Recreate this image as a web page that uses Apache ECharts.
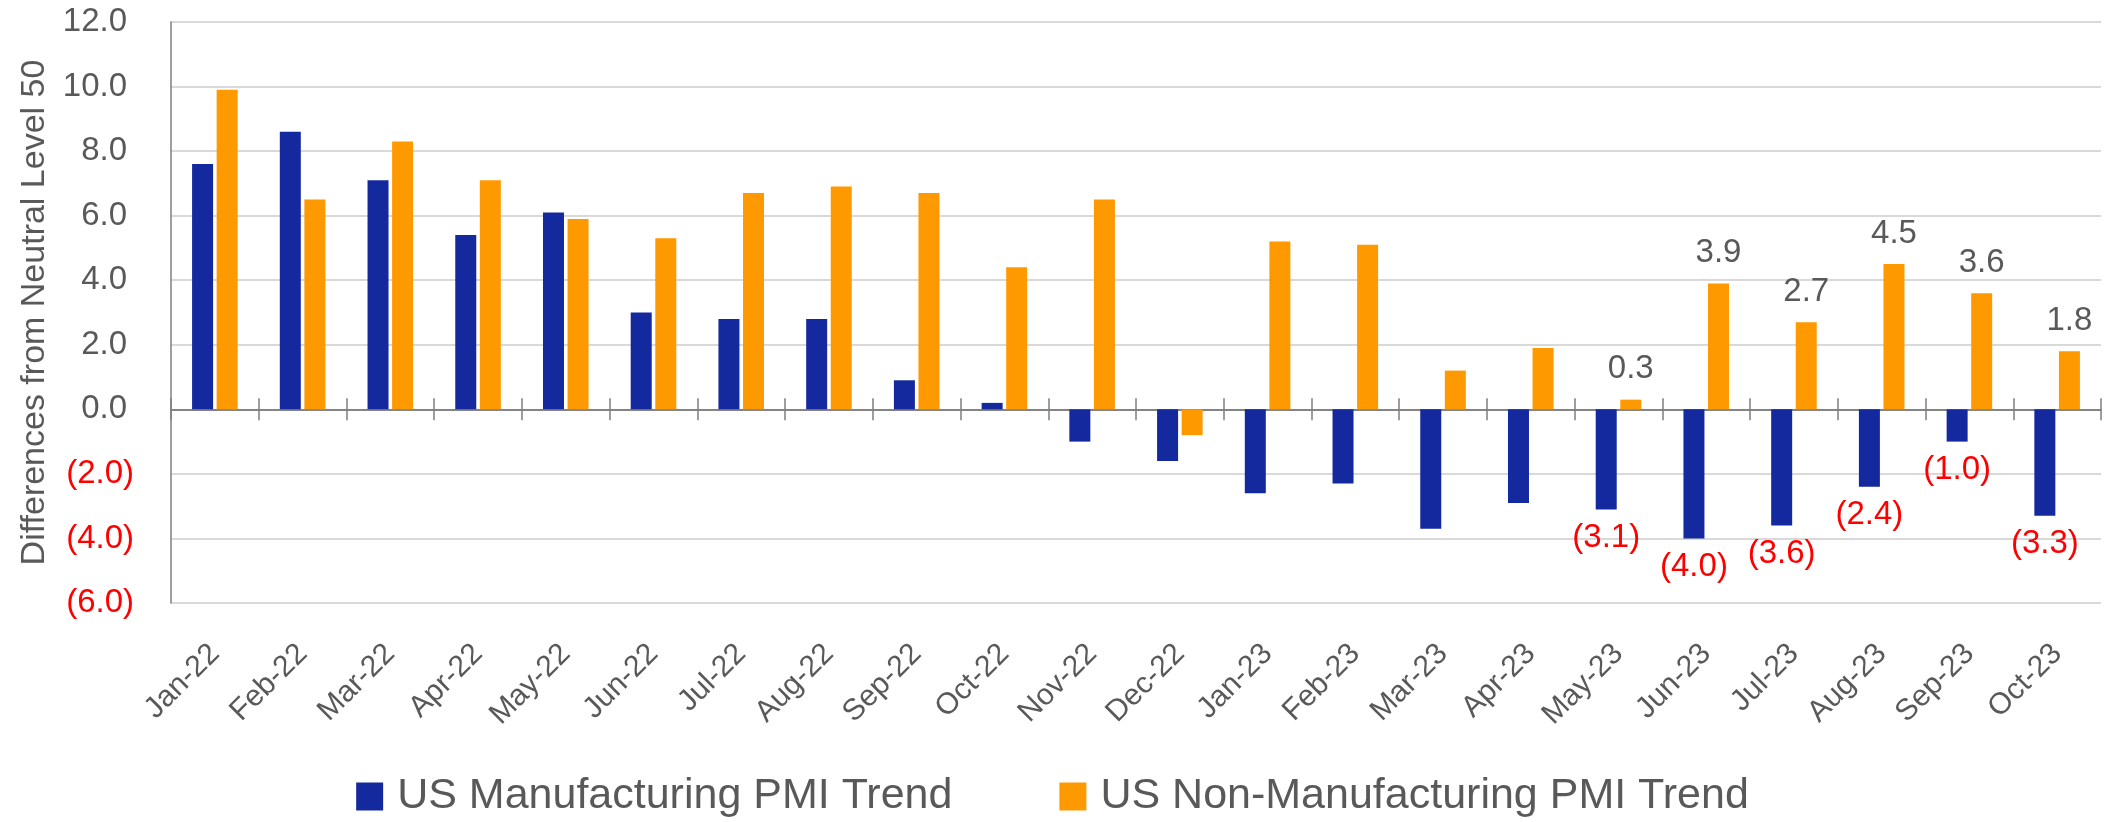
<!DOCTYPE html>
<html>
<head>
<meta charset="utf-8">
<script src="https://cdn.jsdelivr.net/npm/echarts@6/dist/echarts.min.js"></script>
<style>
  html, body { margin: 0; padding: 0; background: #fff; }
  #chart { width: 2105px; height: 822px; }
</style>
</head>
<body>
<div id="chart"></div>
<script>
// categories
const months = [
  'Jan-22', 'Feb-22', 'Mar-22', 'Apr-22', 'May-22', 'Jun-22', 'Jul-22', 'Aug-22',
  'Sep-22', 'Oct-22', 'Nov-22', 'Dec-22', 'Jan-23', 'Feb-23', 'Mar-23', 'Apr-23',
  'May-23', 'Jun-23', 'Jul-23', 'Aug-23', 'Sep-23', 'Oct-23'
]
// differences from neutral level 50
const manufacturing = [
  7.6, 8.6, 7.1, 5.4, 6.1, 3.0, 2.8, 2.8, 0.9, 0.2, -1.0, -1.6,
  -2.6, -2.3, -3.7, -2.9, -3.1, -4.0, -3.6, -2.4, -1.0, -3.3
]
const nonManufacturing = [
  9.9, 6.5, 8.3, 7.1, 5.9, 5.3, 6.7, 6.9, 6.7, 4.4, 6.5, -0.8,
  5.2, 5.1, 1.2, 1.9, 0.3, 3.9, 2.7, 4.5, 3.6, 1.8
]
// months that carry a value label
const labelledMonths = ['May-23', 'Jun-23', 'Jul-23', 'Aug-23', 'Sep-23', 'Oct-23']
const seriesNames = ['US Manufacturing PMI Trend', 'US Non-Manufacturing PMI Trend']

const colors = ['#15299E', '#FF9900']
const grey = '#595959'
const red = '#FF0000'
const axisGrey = '#7F7F7F'
const font = 'Liberation Sans'

// excel style number: 1.5 / (1.5)
const fmt = function(v) {
  return v < 0 ? '(' + Math.abs(v).toFixed(1) + ')' : v.toFixed(1)
}

const toItems = function(values) {
  return values.map(function(v, i) {
    return { value: v, label: { show: labelledMonths.indexOf(months[i]) !== -1 } }
  })
}

const myChart = echarts.init(document.getElementById('chart'))

myChart.setOption({
  animation: false,
  color: colors,
  textStyle: { fontFamily: font },
  grid: {
    left: 171,
    right: 4,
    top: 22,
    bottom: 219,
    containLabel: false,
    outerBoundsMode: 'none',
  },
  legend: {
    data: seriesNames,
    left: 'center',
    top: 770,
    icon: 'rect',
    itemWidth: 27,
    itemHeight: 28,
    itemGap: 107,
    textStyle: { fontSize: 43, color: grey, fontFamily: font, padding: [0, 0, 0, 9] },
  },
  xAxis: [
    {
      type: 'category',
      data: months,
      position: 'bottom',
      axisLine: { onZero: true, onZeroAxisIndex: 0, lineStyle: { color: axisGrey, width: 1.5 } },
      axisTick: { show: true, length: 11, lineStyle: { color: axisGrey, width: 1.5 } },
      // labels sit below the plot bottom, like excel "low" position
      axisLabel: {
        rotate: 45,
        margin: 46,
        fontSize: 30,
        color: grey,
        fontFamily: font,
        interval: 0,
      },
      splitLine: { show: false },
    },
    {
      // second axis only to draw the upper half of the crossing ticks
      type: 'category',
      data: months,
      position: 'top',
      axisLine: { onZero: true, onZeroAxisIndex: 0, lineStyle: { color: axisGrey, width: 1.5 } },
      axisTick: { show: true, length: 11, lineStyle: { color: axisGrey, width: 1.5 } },
      axisLabel: { show: false },
      splitLine: { show: false },
    },
  ],
  yAxis: {
    type: 'value',
    min: -6,
    max: 12,
    interval: 2,
    name: 'Differences from Neutral Level 50',
    nameLocation: 'middle',
    nameRotate: 90,
    nameGap: 119,
    nameTextStyle: { fontSize: 34, color: grey, fontFamily: font },
    axisLine: { show: true, lineStyle: { color: axisGrey, width: 1.5 } },
    axisTick: { show: false },
    axisLabel: {
      fontSize: 33,
      margin: 37,
      fontFamily: font,
      color: function(v) {
        return Number(v) < 0 ? red : grey
      },
      formatter: function(v) {
        return v < 0 ? fmt(v) : '{pos|' + fmt(v) + '}'
      },
      rich: {
        pos: { fontSize: 33, fontFamily: font, padding: [0, 7, 0, 0] },
      },
    },
    splitLine: { show: true, lineStyle: { color: '#D9D9D9', width: 2 } },
  },
  series: [
    {
      name: seriesNames[0],
      type: 'bar',
      xAxisIndex: 0,
      barWidth: 21,
      barGap: '17%',
      data: toItems(manufacturing),
      label: {
        position: 'bottom',
        distance: 12,
        fontSize: 33,
        color: red,
        fontFamily: font,
        formatter: function(p) { return fmt(p.value) },
      },
    },
    {
      name: seriesNames[1],
      type: 'bar',
      xAxisIndex: 0,
      barWidth: 21,
      barGap: '17%',
      data: toItems(nonManufacturing),
      label: {
        position: 'top',
        distance: 14,
        fontSize: 33,
        color: grey,
        fontFamily: font,
        formatter: function(p) { return fmt(p.value) },
      },
    },
  ],
})
</script>
</body>
</html>
